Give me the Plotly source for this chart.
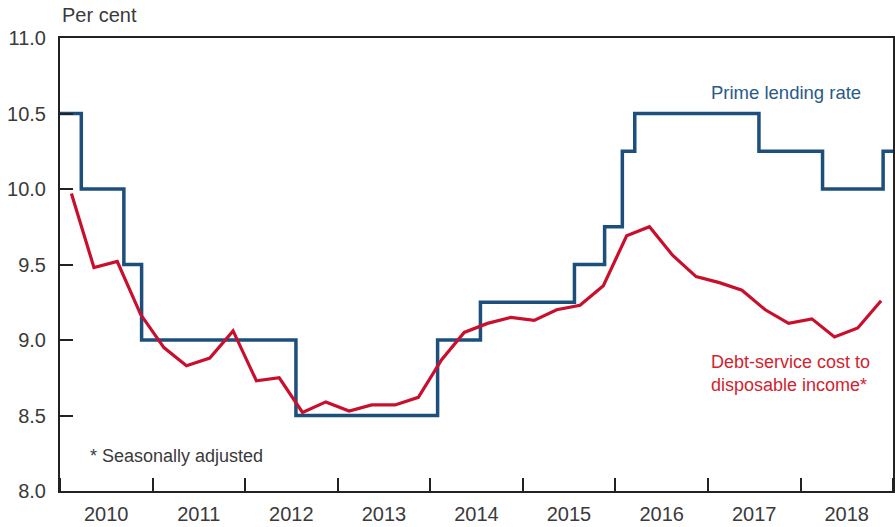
import plotly.graph_objects as go

# Prime lending rate (step changes)
prime_dates = ["2010-01-01", "2010-03-26", "2010-09-10", "2010-11-19", "2012-07-20",
               "2014-01-30", "2014-07-18", "2015-07-24", "2015-11-20", "2016-01-29",
               "2016-03-18", "2017-07-21", "2018-03-29", "2018-11-23", "2019-01-01"]
prime_rate = [10.5, 10.0, 9.5, 9.0, 8.5, 9.0, 9.25, 9.5, 9.75, 10.25, 10.5, 10.25, 10.0, 10.25, 10.25]

# Debt-service cost to disposable income (quarterly, seasonally adjusted)
quarters = ["2010-02-15", "2010-05-15", "2010-08-15", "2010-11-15",
            "2011-02-15", "2011-05-15", "2011-08-15", "2011-11-15",
            "2012-02-15", "2012-05-15", "2012-08-15", "2012-11-15",
            "2013-02-15", "2013-05-15", "2013-08-15", "2013-11-15",
            "2014-02-15", "2014-05-15", "2014-08-15", "2014-11-15",
            "2015-02-15", "2015-05-15", "2015-08-15", "2015-11-15",
            "2016-02-15", "2016-05-15", "2016-08-15", "2016-11-15",
            "2017-02-15", "2017-05-15", "2017-08-15", "2017-11-15",
            "2018-02-15", "2018-05-15", "2018-08-15", "2018-11-15"]
debt_service = [9.97, 9.48, 9.52, 9.17,
                8.95, 8.83, 8.88, 9.06,
                8.73, 8.75, 8.52, 8.59,
                8.53, 8.57, 8.57, 8.62,
                8.87, 9.05, 9.11, 9.15,
                9.13, 9.20, 9.23, 9.36,
                9.69, 9.75, 9.56, 9.42,
                9.38, 9.33, 9.20, 9.11,
                9.14, 9.02, 9.08, 9.26]

y_ticks = [8.0, 8.5, 9.0, 9.5, 10.0, 10.5, 11.0]

BLUE = "#1d4f7c"
RED = "#c8102e"
TEXT = "#3a3a3a"
FONT = "Liberation Sans, Arial, sans-serif"

fig = go.Figure()
fig.add_trace(go.Scatter(x=prime_dates, y=prime_rate, mode="lines",
                         line=dict(color=BLUE, width=3.5, shape="hv"),
                         name="Prime lending rate", hoverinfo="skip"))
fig.add_trace(go.Scatter(x=quarters, y=debt_service, mode="lines",
                         line=dict(color=RED, width=3.2),
                         name="Debt-service cost", hoverinfo="skip"))

fig.update_layout(
    width=895, height=527,
    margin=dict(l=60, r=2, t=38, b=36, autoexpand=False),
    paper_bgcolor="white", plot_bgcolor="white",
    showlegend=False,
    font=dict(family=FONT, size=20, color=TEXT),
    xaxis=dict(type="date", range=["2010-01-01", "2019-01-01"],
               tick0="2010-01-01", dtick="M12", tickformat="%Y",
               ticklabelmode="period", ticks="inside", ticklen=13, tickwidth=2,
               tickcolor="#222222", showline=True, linecolor="#222222", linewidth=2,
               mirror=True, showgrid=False, zeroline=False, automargin=False,
               ticklabelstandoff=4,
               tickfont=dict(size=20, color=TEXT)),
    yaxis=dict(range=[8.0, 11.0], tickvals=y_ticks,
               ticktext=[f"{v:.1f}" for v in y_ticks],
               ticks="inside", ticklen=13, tickwidth=2, tickcolor="#222222",
               showline=True, linecolor="#222222", linewidth=2, mirror=True,
               showgrid=False, zeroline=False, automargin=False,
               ticklabelstandoff=8,
               tickfont=dict(size=20, color=TEXT)),
)

fig.add_annotation(text="Per cent", xref="paper", yref="paper", x=0, y=1,
                   xanchor="left", yanchor="bottom", yshift=10, showarrow=False,
                   font=dict(size=20, color=TEXT))
fig.add_annotation(text="Prime lending rate", x="2017-01-03", y=10.64,
                   xanchor="left", yanchor="middle", showarrow=False,
                   font=dict(size=18.5, color="#2a5a88"))
fig.add_annotation(text="Debt-service cost to<br>disposable income*", x="2017-01-03", y=8.78,
                   xanchor="left", yanchor="middle", align="left", showarrow=False,
                   font=dict(size=18, color="#d2232f"))
fig.add_annotation(text="* Seasonally adjusted", x="2010-04-20", y=8.23,
                   xanchor="left", yanchor="middle", showarrow=False,
                   font=dict(size=18, color=TEXT))

fig.write_html("out.html", config={"displayModeBar": False},
               post_script="document.body.style.margin='0';")
